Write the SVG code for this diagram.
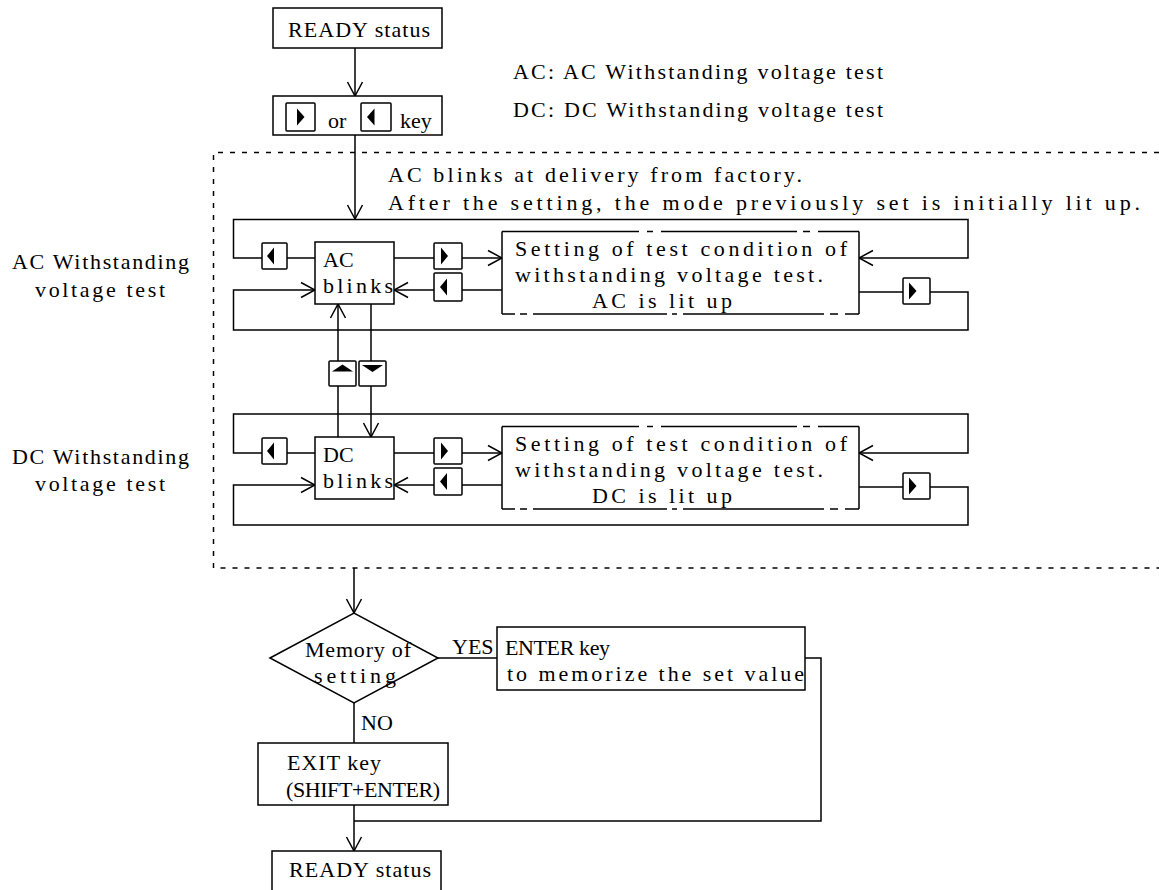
<svg xmlns="http://www.w3.org/2000/svg" xmlns:xlink="http://www.w3.org/1999/xlink" width="1159" height="890" viewBox="0 0 1159 890">
<style>
.ln{fill:none;stroke:#000;stroke-width:1.5}
.bx{fill:#fff;stroke:#000;stroke-width:1.5}
.kb{fill:#fff;stroke:#000;stroke-width:1.5}
.tri{fill:#000;stroke:none}
.dash{fill:none;stroke:#000;stroke-width:1.5;stroke-dasharray:5 7}
.t{font-family:"Liberation Serif","Times New Roman",serif;font-size:22px;fill:#000}
.ar{marker-end:url(#ah)}
</style>
<defs>
<marker id="ah" markerUnits="userSpaceOnUse" markerWidth="16" markerHeight="18" viewBox="0 0 16 18" refX="15" refY="9" orient="auto"><path d="M1,1.5 L15,9 L1,16.5" fill="none" stroke="#000" stroke-width="1.5"/></marker>
</defs>

<g id="region">
<path class="dash" d="M1159,152.5 H213.5 V568 H1159"/>
</g>

<g id="notes">
<text class="t" x="513" y="79" textLength="370" lengthAdjust="spacing">AC: AC Withstanding voltage test</text>
<text class="t" x="513" y="117" textLength="370" lengthAdjust="spacing">DC: DC Withstanding voltage test</text>
<text class="t" x="388" y="182" textLength="414" lengthAdjust="spacing">AC blinks at delivery from factory.</text>
<text class="t" x="388" y="210" textLength="752" lengthAdjust="spacing">After the setting, the mode previously set is initially lit up.</text>
</g>

<g id="connectors">
<path class="ln ar" d="M355,48 V96"/>
<path class="ln ar" d="M355,135 V219"/>
<path class="ln" d="M287,258 H315"/>
<path class="ln ar" d="M262,258 H233.5 V219.5 H968 V258 H859"/>
<path class="ln" d="M394,258 H434"/>
<path class="ln ar" d="M462,258 H502"/>
<path class="ln" d="M502,290 H462"/>
<path class="ln ar" d="M434,290 H394"/>
<path class="ln" d="M859,292 H903"/>
<path class="ln ar" d="M930,292 H968 V330 H233.5 V290 H315"/>
<path class="ln ar" d="M338,437 V304"/>
<path class="ln ar" d="M371,304 V437"/>
<path class="ln" d="M287,453 H315"/>
<path class="ln ar" d="M262,453 H233.5 V414 H968 V453 H859"/>
<path class="ln" d="M394,453 H434"/>
<path class="ln ar" d="M462,453 H502"/>
<path class="ln" d="M502,485 H462"/>
<path class="ln ar" d="M434,485 H394"/>
<path class="ln" d="M859,487 H903"/>
<path class="ln ar" d="M930,487 H968 V525 H233.5 V485 H315"/>
<path class="ln ar" d="M354,568 V613"/>
<path class="ln" d="M438,658 H497"/>
<path class="ln" d="M354,703 V743"/>
<path class="ln ar" d="M354,805 V851"/>
<path class="ln" d="M805,658 H821 V821 H354"/>
</g>

<g id="keys">
<rect class="kb" x="262" y="243" width="25" height="26" rx="1"/><path class="tri" d="M267,256 L274,247.5 L274,264.5Z"/>
<rect class="kb" x="434" y="243" width="28" height="26" rx="1"/><path class="tri" d="M441,247.5 L448,256 L441,264.5Z"/>
<rect class="kb" x="434" y="273" width="28" height="28" rx="1"/><path class="tri" d="M440,287 L447,278.5 L447,295.5Z"/>
<rect class="kb" x="903" y="278" width="27" height="26" rx="1"/><path class="tri" d="M909,282.5 L916.5,291 L909,299.5Z"/>
<rect class="kb" x="329" y="361" width="27" height="25" rx="1"/><path class="tri" d="M332,371.5 L342.5,364.5 L353,371.5Z"/>
<rect class="kb" x="359" y="361" width="27" height="25" rx="1"/><path class="tri" d="M362,365 L383,365 L372.5,372Z"/>
<rect class="kb" x="262" y="438" width="25" height="26" rx="1"/><path class="tri" d="M267,451 L274,442.5 L274,459.5Z"/>
<rect class="kb" x="434" y="438" width="28" height="26" rx="1"/><path class="tri" d="M441,442.5 L448,451 L441,459.5Z"/>
<rect class="kb" x="434" y="468" width="28" height="27" rx="1"/><path class="tri" d="M440,481.5 L447,473 L447,490Z"/>
<rect class="kb" x="903" y="473" width="27" height="26" rx="1"/><path class="tri" d="M909,477.5 L916.5,486 L909,494.5Z"/>
</g>

<g id="ready-top">
<rect class="bx" x="273" y="8" width="169" height="40"/>
<text class="t" x="288" y="37" textLength="142" lengthAdjust="spacing">READY status</text>
</g>

<g id="key-select">
<rect class="bx" x="273" y="96" width="169" height="39"/>
<rect class="kb" x="286" y="103" width="29" height="28" rx="1"/><path class="tri" d="M297,108.5 L304.5,117 L297,125.5Z"/>
<text class="t" x="328" y="128">or</text>
<rect class="kb" x="361" y="103" width="30" height="28" rx="1"/><path class="tri" d="M367,117 L374.5,108.5 L374.5,125.5Z"/>
<text class="t" x="400" y="128">key</text>
</g>

<g id="ac-label">
<text class="t" x="12" y="269" textLength="177" lengthAdjust="spacing">AC Withstanding</text>
<text class="t" x="35" y="297" textLength="130" lengthAdjust="spacing">voltage test</text>
</g>

<g id="ac-blinks">
<rect class="bx" x="315" y="242" width="79" height="62"/>
<text class="t" x="323" y="267">AC</text>
<text class="t" x="323" y="293" textLength="70" lengthAdjust="spacing">blinks</text>
</g>

<g id="ac-setting">
<rect x="502" y="231.5" width="357" height="82.5" fill="#fff"/>
<path class="ln" d="M502,231.5 V314 M859,231.5 V314 M502,231.5 H639 M647,231.5 H653 M661,231.5 H797 M803,231.5 H810 M818,231.5 H859 M502,314 H515 M520,314 H527 M533,314 H667 M672,314 H677 M683,314 H824 M830,314 H838 M845,314 H859"/>
<text class="t" x="515" y="256" textLength="332" lengthAdjust="spacing">Setting of test condition of</text>
<text class="t" x="515" y="282" textLength="308" lengthAdjust="spacing">withstanding voltage test.</text>
<text class="t" x="592" y="308" textLength="140" lengthAdjust="spacing">AC is lit up</text>
</g>

<g id="dc-label">
<text class="t" x="12" y="464" textLength="177" lengthAdjust="spacing">DC Withstanding</text>
<text class="t" x="35" y="491" textLength="130" lengthAdjust="spacing">voltage test</text>
</g>

<g id="dc-blinks">
<rect class="bx" x="315" y="437" width="79" height="62"/>
<text class="t" x="323" y="462">DC</text>
<text class="t" x="323" y="488" textLength="70" lengthAdjust="spacing">blinks</text>
</g>

<g id="dc-setting">
<rect x="502" y="426.5" width="357" height="82.5" fill="#fff"/>
<path class="ln" d="M502,426.5 V509 M859,426.5 V509 M502,426.5 H639 M647,426.5 H653 M661,426.5 H797 M803,426.5 H810 M818,426.5 H859 M502,509 H515 M520,509 H527 M533,509 H667 M672,509 H677 M683,509 H824 M830,509 H838 M845,509 H859"/>
<text class="t" x="515" y="451" textLength="332" lengthAdjust="spacing">Setting of test condition of</text>
<text class="t" x="515" y="477" textLength="308" lengthAdjust="spacing">withstanding voltage test.</text>
<text class="t" x="592" y="503" textLength="140" lengthAdjust="spacing">DC is lit up</text>
</g>

<g id="decision">
<polygon class="bx" points="270,658 354,613 438,658 354,703"/>
<text class="t" x="305" y="657" textLength="106" lengthAdjust="spacing">Memory of</text>
<text class="t" x="314" y="683" textLength="82" lengthAdjust="spacing">setting</text>
<text class="t" x="452" y="654">YES</text>
<text class="t" x="361" y="730">NO</text>
</g>

<g id="enter">
<rect class="bx" x="497" y="627" width="308" height="63"/>
<text class="t" x="505" y="655" textLength="105" lengthAdjust="spacing">ENTER key</text>
<text class="t" x="507" y="681" textLength="297" lengthAdjust="spacing">to memorize the set value</text>
</g>

<g id="exit">
<rect class="bx" x="258" y="743" width="190" height="62"/>
<text class="t" x="287" y="770" textLength="94" lengthAdjust="spacing">EXIT key</text>
<text class="t" x="286" y="797" textLength="154" lengthAdjust="spacing">(SHIFT+ENTER)</text>
</g>

<g id="ready-bottom">
<rect class="bx" x="272" y="851" width="169" height="45"/>
<text class="t" x="289" y="877" textLength="142" lengthAdjust="spacing">READY status</text>
</g>
</svg>
